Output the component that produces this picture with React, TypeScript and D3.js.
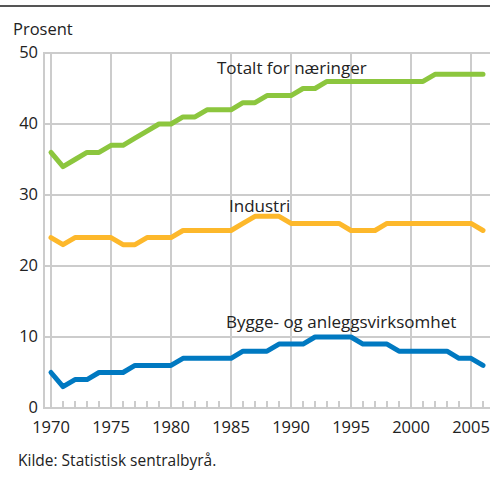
import React from "react";
import * as d3 from "d3";

const years = d3.range(1970, 2007);
const totalt = [36,34,35,36,36,37,37,38,39,40,40,41,41,42,42,42,43,43,44,44,44,45,45,46,46,46,46,46,46,46,46,46,47,47,47,47,47];
const industri = [24,23,24,24,24,24,23,23,24,24,24,25,25,25,25,25,26,27,27,27,26,26,26,26,26,25,25,25,26,26,26,26,26,26,26,26,25];
const bygge = [5,3,4,4,5,5,5,6,6,6,6,7,7,7,7,7,8,8,8,9,9,9,10,10,10,10,9,9,9,8,8,8,8,8,7,7,6];
const yTicks = [0,10,20,30,40,50];
const xTicks = [1970,1975,1980,1985,1990,1995,2000,2005];

const series = [
  { name: "Totalt for næringer", values: totalt, color: "#8cc63e", lx: 217, ly: 74 },
  { name: "Industri", values: industri, color: "#fdb82b", lx: 229, ly: 212 },
  { name: "Bygge- og anleggsvirksomhet", values: bygge, color: "#0079c1", lx: 226, ly: 328 },
];

export default function App() {
  const W = 495, H = 480;
  const x = d3.scaleLinear().domain([1970, 2006]).range([51, 483]);
  const y = d3.scaleLinear().domain([0, 50]).range([408, 53]);
  const line = d3.line<number>().x((_, i) => x(years[i])).y((d) => y(d));
  const font = "'Open Sans', sans-serif";
  const grid = "#cccccc";
  return (
    <svg width={W} height={H} style={{ position: "absolute", left: 0, top: 0 }}>
      <line x1={0} x2={490} y1={6} y2={6} stroke="#555" strokeWidth={2} />
      <text x={13} y={35} fontFamily={font} fontSize={16.5} fill="#222">Prosent</text>
      {yTicks.filter(t => t > 0).map(t => (
        <line key={"h" + t} x1={44} x2={490} y1={y(t)} y2={y(t)} stroke={grid} strokeWidth={2} />
      ))}
      {xTicks.map(t => (
        <line key={"v" + t} x1={x(t)} x2={x(t)} y1={y(50)} y2={y(0)} stroke={grid} strokeWidth={2} />
      ))}
      {years.map(t => (
        <line key={"m" + t} x1={x(t)} x2={x(t)} y1={y(0) - 7} y2={y(0)} stroke={grid} strokeWidth={2} />
      ))}
      <line x1={44} x2={44} y1={y(50) - 1} y2={y(0)} stroke={grid} strokeWidth={2} />
      <line x1={43} x2={490} y1={y(0)} y2={y(0)} stroke={grid} strokeWidth={2} />
      {yTicks.map(t => (
        <text key={"yl" + t} x={38} y={y(t) + 5} textAnchor="end" fontFamily={font} fontSize={16.5} fill="#222">{t}</text>
      ))}
      {xTicks.map(t => (
        <text key={"xl" + t} x={x(t)} y={433} textAnchor="middle" fontFamily={font} fontSize={16.5} fill="#222">{t}</text>
      ))}
      {series.map(s => (
        <g key={s.name}>
          <path d={line(s.values) || ""} fill="none" stroke={s.color} strokeWidth={5} strokeLinejoin="round" strokeLinecap="round" />
          <text x={s.lx} y={s.ly} fontFamily={font} fontSize={17} fill="#222">{s.name}</text>
        </g>
      ))}
      <text x={18} y={466} fontFamily={font} fontSize={15.5} fill="#222">Kilde: Statistisk sentralbyrå.</text>
    </svg>
  );
}
